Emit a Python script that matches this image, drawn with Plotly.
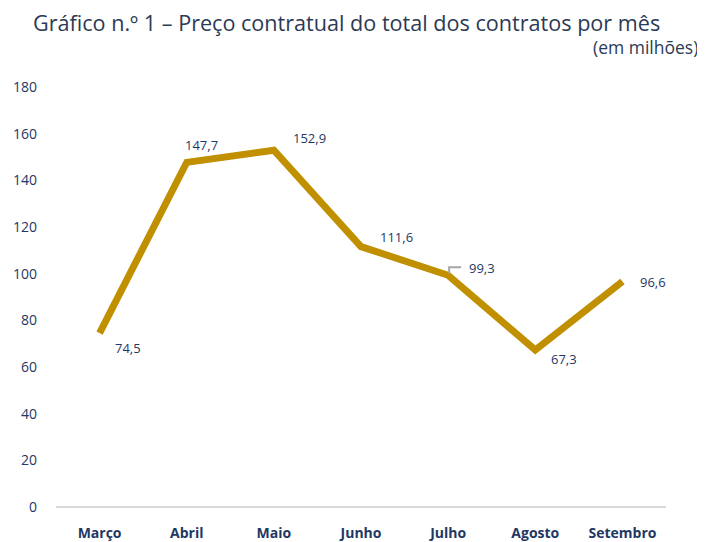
import plotly.graph_objects as go

months = ["Março", "Abril", "Maio", "Junho", "Julho", "Agosto", "Setembro"]
values = [74.5, 147.7, 152.9, 111.6, 99.3, 67.3, 96.6]
labels = ["74,5", "147,7", "152,9", "111,6", "99,3", "67,3", "96,6"]
y_ticks = [0, 20, 40, 60, 80, 100, 120, 140, 160, 180]

# label offsets (pixels) mimicking the reference placement
offs = [(28, -15), (15, 17), (36, 12), (35, 10), (34, 7), (29, -9), (31, 0)]

navy = "#1F3864"
fig = go.Figure()
fig.add_trace(go.Scatter(
    x=months, y=values, mode="lines",
    line=dict(color="#C09000", width=7),
    hoverinfo="skip", showlegend=False,
))

for m, v, t, (dx, dy) in zip(months, values, labels, offs):
    fig.add_annotation(x=m, y=v, text=t, showarrow=False, xshift=dx, yshift=dy,
                       font=dict(family="Open Sans", size=13, color=navy))

# leader line for Julho
fig.add_shape(type="path", xref="x", yref="y", xsizemode="pixel", ysizemode="pixel",
              xanchor=4, yanchor=values[4], path="M 1,2 L 1,8 L 13,8",
              line=dict(color="#A6A6A6", width=2))

fig.add_annotation(xref="paper", yref="paper", x=-0.041, y=1.153, xanchor="left",
                   yanchor="middle",
                   text="Gráfico n.º 1 – Preço contratual do total dos contratos por mês",
                   showarrow=False, font=dict(family="Open Sans", size=21.6, color="#2B3A55"))
fig.add_annotation(xref="paper", yref="paper", x=1.056, y=1.096, xanchor="right",
                   yanchor="middle",
                   text="(em milhões)", showarrow=False,
                   font=dict(family="Open Sans", size=17.5, color="#2B3A55"))

fig.update_layout(
    width=705, height=542,
    margin=dict(l=48, r=47, t=79, b=43),
    plot_bgcolor="white", paper_bgcolor="white",
    xaxis=dict(range=[-0.5, 6.5], showgrid=False, showline=False, zeroline=False,
               automargin=False,
               tickfont=dict(family="Open Sans", size=14, color=navy, weight="bold"),
               ticks="", ticklabelstandoff=16),
    yaxis=dict(range=[0, 180], tickvals=y_ticks, showgrid=False, zeroline=True,
               automargin=False,
               zerolinecolor="#D9D9D9", zerolinewidth=2, showline=False,
               tickfont=dict(family="Open Sans", size=14, color=navy),
               ticklabelstandoff=18),
)

fig.write_html("out.html")
